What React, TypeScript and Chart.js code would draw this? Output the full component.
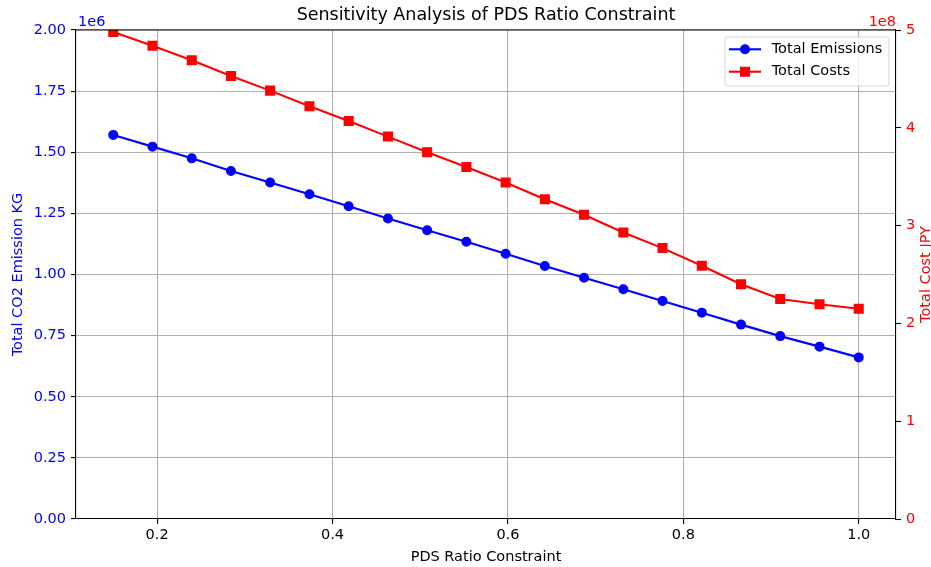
import React, { useEffect, useRef } from 'react';
import { Chart, registerables } from 'chart.js';

Chart.register(...registerables);

// ---- Data ----
const pdsRatio = [0.15, 0.1947, 0.2395, 0.2842, 0.3289, 0.3737, 0.4184, 0.4632, 0.5079, 0.5526, 0.5974, 0.6421, 0.6868, 0.7316, 0.7763, 0.8211, 0.8658, 0.9105, 0.9553, 1.0];
const totalEmissions = [1571000, 1523000, 1475000, 1423000, 1376000, 1328000, 1279000, 1229000, 1181000, 1134000, 1085000, 1035000, 987000, 940000, 892000, 844000, 795000, 748000, 705000, 661000];
const totalCosts = [498000000, 484000000, 469000000, 453000000, 438000000, 422000000, 407000000, 391000000, 375000000, 360000000, 344000000, 327000000, 311000000, 293000000, 277000000, 259000000, 240000000, 225000000, 219500000, 215000000];

const xTicks = [0.2, 0.4, 0.6, 0.8, 1.0];
const emissionTicks = [0, 250000, 500000, 750000, 1000000, 1250000, 1500000, 1750000, 2000000];
const costTicks = [0, 100000000, 200000000, 300000000, 400000000, 500000000];

const chartTitle = 'Sensitivity Analysis of PDS Ratio Constraint';
const xLabel = 'PDS Ratio Constraint';
const yLeftLabel = 'Total CO2 Emission KG';
const yRightLabel = 'Total Cost JPY';
const seriesNames = ['Total Emissions', 'Total Costs'];
const leftOffsetText = '1e6';
const rightOffsetText = '1e8';

const FONT = 'DejaVu Sans';
const FS = 14.5;
const BLUE = '#0000ff';
const RED = '#ff0000';

const overlayPlugin = {
  id: 'overlay',
  afterDraw(chart: any) {
    const { ctx, chartArea } = chart;
    const { left, right, top, bottom } = chartArea;
    ctx.save();
    // top spine
    ctx.strokeStyle = '#000';
    ctx.lineWidth = 1.1;
    ctx.beginPath();
    ctx.moveTo(left, top);
    ctx.lineTo(right, top);
    ctx.stroke();

    // title
    ctx.fillStyle = '#000';
    ctx.font = `17.5px "${FONT}"`;
    ctx.textAlign = 'center';
    ctx.textBaseline = 'middle';
    ctx.fillText(chartTitle, (left + right) / 2, 15);

    // offset texts
    ctx.font = `${FS}px "${FONT}"`;
    ctx.textBaseline = 'alphabetic';
    ctx.textAlign = 'left';
    ctx.fillStyle = BLUE;
    ctx.fillText(leftOffsetText, left + 2, 25.5);
    ctx.textAlign = 'right';
    ctx.fillStyle = RED;
    ctx.fillText(rightOffsetText, right, 25.5);

    // right axis title (reads bottom-to-top)
    ctx.save();
    ctx.translate(926.7, (top + bottom) / 2);
    ctx.rotate(-Math.PI / 2);
    ctx.textAlign = 'center';
    ctx.textBaseline = 'middle';
    ctx.fillStyle = RED;
    ctx.fillText(yRightLabel, 0, 0);
    ctx.restore();

    // legend
    const lx = 725, ly = 37, lw = 164, lh = 49, r = 2.8;
    ctx.beginPath();
    ctx.moveTo(lx + r, ly);
    ctx.lineTo(lx + lw - r, ly);
    ctx.arcTo(lx + lw, ly, lx + lw, ly + r, r);
    ctx.lineTo(lx + lw, ly + lh - r);
    ctx.arcTo(lx + lw, ly + lh, lx + lw - r, ly + lh, r);
    ctx.lineTo(lx + r, ly + lh);
    ctx.arcTo(lx, ly + lh, lx, ly + lh - r, r);
    ctx.lineTo(lx, ly + r);
    ctx.arcTo(lx, ly, lx + r, ly, r);
    ctx.closePath();
    ctx.fillStyle = 'rgba(255,255,255,0.8)';
    ctx.fill();
    ctx.strokeStyle = 'rgba(204,204,204,0.8)';
    ctx.lineWidth = 1;
    ctx.stroke();

    const rows = [
      { y: 49.3, color: BLUE, shape: 'circle', label: seriesNames[0] },
      { y: 71.7, color: RED, shape: 'square', label: seriesNames[1] },
    ];
    for (const row of rows) {
      ctx.strokeStyle = row.color;
      ctx.lineWidth = 2.1;
      ctx.beginPath();
      ctx.moveTo(729, row.y);
      ctx.lineTo(761, row.y);
      ctx.stroke();
      ctx.fillStyle = row.color;
      ctx.lineWidth = 1.4;
      ctx.beginPath();
      if (row.shape === 'circle') {
        ctx.arc(745, row.y, 4.3, 0, Math.PI * 2);
      } else {
        ctx.rect(745 - 4.3, row.y - 4.3, 8.6, 8.6);
      }
      ctx.fill();
      ctx.stroke();
      ctx.fillStyle = '#000';
      ctx.font = `${FS}px "${FONT}"`;
      ctx.textAlign = 'left';
      ctx.textBaseline = 'middle';
      ctx.fillText(row.label, 771.7, row.y);
    }
    ctx.restore();
  },
};

export default function App() {
  const canvasRef = useRef<HTMLCanvasElement | null>(null);

  useEffect(() => {
    const canvas = canvasRef.current;
    if (!canvas) return;
    const chart = new Chart(canvas, {
      type: 'line',
      data: {
        datasets: [
          {
            label: seriesNames[0],
            data: pdsRatio.map((x, i) => ({ x, y: totalEmissions[i] })),
            yAxisID: 'y',
            borderColor: BLUE,
            backgroundColor: BLUE,
            borderWidth: 2.1,
            pointStyle: 'circle',
            pointRadius: 4.3,
            pointBorderWidth: 1.4,
            pointBackgroundColor: BLUE,
            pointBorderColor: BLUE,
            tension: 0,
          },
          {
            label: seriesNames[1],
            data: pdsRatio.map((x, i) => ({ x, y: totalCosts[i] })),
            yAxisID: 'y2',
            borderColor: RED,
            backgroundColor: RED,
            borderWidth: 2.1,
            pointStyle: 'rect',
            pointRadius: 6.1,
            pointBorderWidth: 1.4,
            pointBackgroundColor: RED,
            pointBorderColor: RED,
            tension: 0,
          },
        ],
      },
      options: {
        responsive: false,
        animation: false,
        devicePixelRatio: 1,
        layout: { padding: { left: 0, right: 0, top: 30, bottom: 0 } },
        plugins: {
          legend: { display: false },
          title: { display: false },
          tooltip: { enabled: false },
        },
        scales: {
          x: {
            type: 'linear',
            position: 'bottom',
            min: 0.1075,
            max: 1.0425,
            afterBuildTicks: (scale: any) => {
              scale.ticks = xTicks.map((v) => ({ value: v }));
            },
            afterFit: (scale: any) => {
              scale.height = 48;
            },
            ticks: {
              callback: (v: any) => Number(v).toFixed(1),
              color: '#000',
              font: { family: FONT, size: FS },
              padding: 3,
              maxRotation: 0,
              autoSkip: false,
            },
            grid: {
              color: '#b0b0b0',
              lineWidth: 1.1,
              tickColor: '#000',
              tickLength: 5,
              tickWidth: 1.1,
            },
            border: { color: '#000', width: 1.1 },
            title: {
              display: true,
              text: xLabel,
              color: '#000',
              font: { family: FONT, size: FS },
              padding: { top: 0, bottom: 1.5 },
            },
          },
          y: {
            type: 'linear',
            position: 'left',
            min: 0,
            max: 2000000,
            afterBuildTicks: (scale: any) => {
              scale.ticks = emissionTicks.map((v) => ({ value: v }));
            },
            afterFit: (scale: any) => {
              scale.width = 76;
            },
            ticks: {
              callback: (v: any) => (Number(v) / 1e6).toFixed(2),
              color: BLUE,
              font: { family: FONT, size: FS },
              padding: 5,
              autoSkip: false,
            },
            grid: {
              color: '#b0b0b0',
              lineWidth: 1.1,
              tickColor: '#000',
              tickLength: 5,
              tickWidth: 1.1,
            },
            border: { color: '#000', width: 1.1 },
            title: {
              display: true,
              text: yLeftLabel,
              color: BLUE,
              font: { family: FONT, size: FS },
              padding: { top: 9.5, bottom: 0 },
            },
          },
          y2: {
            type: 'linear',
            position: 'right',
            min: 0,
            max: 500000000,
            afterBuildTicks: (scale: any) => {
              scale.ticks = costTicks.map((v) => ({ value: v }));
            },
            afterFit: (scale: any) => {
              scale.width = 35;
            },
            ticks: {
              callback: (v: any) => String(Math.round(Number(v) / 1e8)),
              color: RED,
              font: { family: FONT, size: FS },
              padding: 5,
              autoSkip: false,
            },
            grid: {
              drawOnChartArea: false,
              tickColor: '#000',
              tickLength: 5,
              tickWidth: 1.1,
            },
            border: { color: '#000', width: 1.1 },
          },
        },
      },
      plugins: [overlayPlugin],
    } as any);
    return () => chart.destroy();
  }, []);

  return (
    <div style={{ position: 'fixed', left: 0, top: 0, width: 931, height: 567, background: '#fff' }}>
      <canvas ref={canvasRef} width={931} height={567} style={{ display: 'block' }} />
    </div>
  );
}
